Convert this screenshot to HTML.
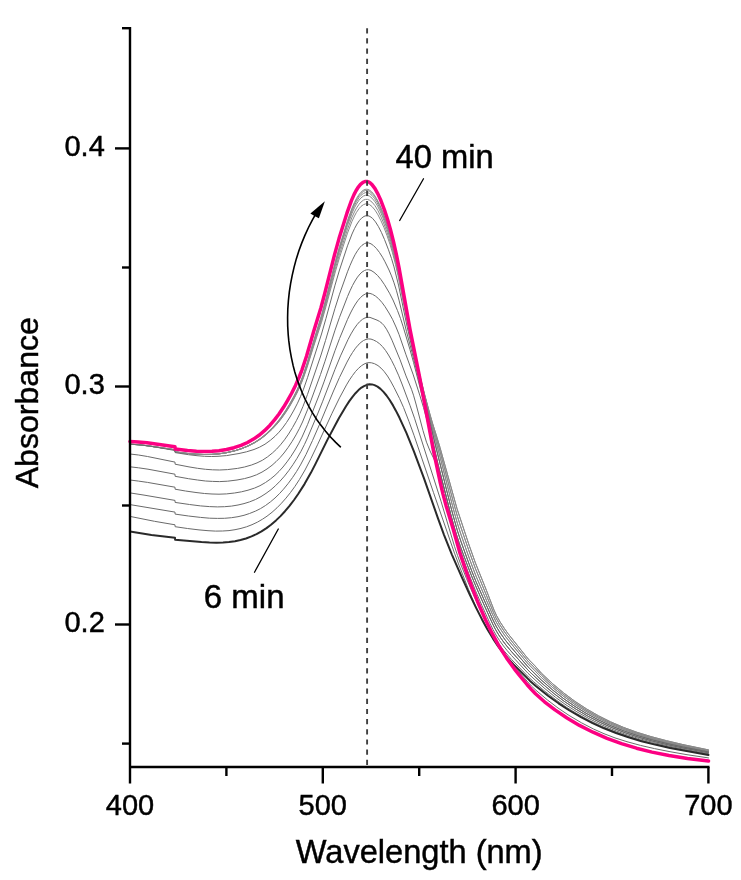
<!DOCTYPE html>
<html><head><meta charset="utf-8"><title>Absorbance spectra</title>
<style>html,body{margin:0;padding:0;background:#fff;}body{width:741px;height:880px;overflow:hidden;}svg{display:block;}</style>
</head><body>
<svg width="741" height="880" viewBox="0 0 741 880">
<rect width="741" height="880" fill="#fff"/>
<g fill="none" stroke-linejoin="round" stroke-linecap="round">
<path d="M130.0 444.2L138.0 444.7L147.0 445.7L175.0 449.8L175.1 451.9L187.5 453.5L196.5 454.2L204.5 454.5L212.0 454.4L219.5 453.8L227.0 452.6L235.0 450.7L241.5 448.6L248.0 445.8L255.0 442.1L261.0 438.0L266.5 433.4L272.5 427.5L277.0 422.4L281.0 417.2L285.5 410.6L289.5 404.1L293.5 396.9L297.0 389.9L300.0 383.1L303.0 375.3L307.0 363.3L313.5 341.3L321.5 315.2L326.0 298.4L335.5 260.9L339.5 246.4L347.5 220.5L352.0 208.0L354.5 202.3L356.5 198.4L358.5 195.2L360.5 192.6L363.0 190.4L365.0 189.4L367.0 189.2L369.0 189.8L371.5 191.6L374.0 194.5L376.5 198.4L379.5 204.3L382.5 211.3L385.5 219.3L388.5 228.5L391.0 237.1L394.0 248.9L397.5 264.5L400.5 279.6L407.0 314.8L411.5 337.6L415.5 356.6L420.5 377.9L425.0 395.8L430.0 414.3L432.5 423.1L440.0 447.5L457.0 508.7L469.0 544.9L475.5 563.2L486.5 590.6L494.0 610.1L496.5 615.5L500.0 621.8L504.5 628.7L508.0 633.6L526.5 656.9L529.0 659.8L535.0 665.9L541.5 673.3L552.5 683.6L563.5 692.8L575.0 701.4L586.5 708.9L598.5 715.8L610.5 721.8L623.5 727.4L637.0 732.3L651.0 736.6L666.5 740.7L683.0 744.6L708.5 749.9" stroke="#8a8a8a" stroke-width="1.0"/>
<path d="M130.0 444.2L138.0 444.7L147.0 445.7L175.0 449.8L175.1 451.9L187.0 453.4L196.0 454.2L204.0 454.5L211.5 454.4L219.0 453.8L226.5 452.7L235.0 450.7L242.0 448.4L248.0 445.9L255.0 442.2L261.0 438.2L266.5 433.7L272.5 427.8L277.0 422.7L281.0 417.6L285.5 411.1L289.5 404.6L293.5 397.4L297.0 390.4L300.0 383.7L303.0 376.0L307.0 364.0L313.5 342.1L321.5 316.3L326.0 299.5L335.5 262.2L339.5 247.8L347.5 222.0L350.0 214.7L352.5 208.2L355.0 202.6L357.0 198.9L359.0 195.8L361.0 193.4L363.5 191.3L365.5 190.5L367.5 190.5L369.5 191.3L372.0 193.3L374.5 196.3L377.0 200.4L379.5 205.4L382.5 212.3L385.5 220.3L388.0 228.0L390.5 236.7L394.0 250.4L397.5 266.0L410.0 331.0L415.0 354.8L420.5 378.3L425.0 396.2L429.5 412.9L432.5 423.3L437.0 437.4L440.0 447.5L457.0 508.7L469.0 544.9L475.5 563.2L486.5 590.6L494.0 610.1L496.5 615.5L500.0 621.8L504.5 628.7L508.0 633.6L526.5 656.9L529.0 659.8L535.0 665.9L541.5 673.3L552.5 683.6L563.5 692.8L575.0 701.4L586.5 708.9L598.5 715.8L610.5 721.8L623.5 727.4L637.0 732.3L651.0 736.6L666.5 740.7L683.0 744.6L708.5 749.9" stroke="#8a8a8a" stroke-width="1.0"/>
<path d="M130.0 444.2L138.0 444.7L147.0 445.7L175.0 449.8L175.1 451.9L187.0 453.4L196.0 454.2L204.0 454.5L211.5 454.4L219.0 453.8L226.5 452.7L235.0 450.7L242.0 448.5L248.0 446.0L255.0 442.3L261.0 438.4L266.5 434.0L272.5 428.2L277.0 423.1L281.0 418.0L285.5 411.6L289.5 405.1L293.5 398.0L297.0 391.0L300.0 384.3L303.0 376.6L307.0 364.7L313.5 342.9L321.5 317.1L326.0 300.4L335.0 265.2L339.5 249.0L347.5 223.4L352.0 211.0L354.5 205.4L356.5 201.6L359.0 197.7L361.0 195.3L363.5 193.4L365.5 192.6L367.5 192.6L369.5 193.4L372.0 195.4L374.5 198.4L377.0 202.5L379.5 207.4L382.5 214.3L385.5 222.3L388.0 229.9L391.0 240.3L394.5 254.1L398.0 269.7L410.0 331.5L415.0 355.3L419.5 374.7L424.0 392.8L431.0 419.5L439.5 449.5L453.5 502.6L457.5 516.7L460.5 526.1L468.5 549.5L475.5 568.8L493.5 612.6L496.0 618.0L499.5 624.2L504.0 631.1L507.5 635.9L513.0 642.9L526.5 659.4L529.0 662.3L534.5 667.7L541.5 675.3L552.0 685.0L563.0 694.1L574.5 702.5L586.0 710.0L598.0 716.8L610.5 722.9L623.5 728.4L637.0 733.2L651.0 737.5L666.5 741.5L683.5 745.4L708.5 750.5" stroke="#8a8a8a" stroke-width="1.0"/>
<path d="M130.0 444.2L138.0 444.7L147.0 445.7L175.0 449.8L175.1 451.9L187.0 453.4L196.0 454.2L204.0 454.5L211.5 454.4L218.5 453.9L226.0 452.8L234.5 450.9L241.5 448.7L248.0 446.0L255.0 442.5L261.0 438.6L266.5 434.2L272.5 428.5L277.0 423.5L281.0 418.4L285.5 412.0L289.5 405.6L293.5 398.5L297.0 391.6L300.0 384.9L303.0 377.3L307.0 365.4L313.5 343.8L321.5 318.2L326.0 301.7L335.0 266.7L339.5 250.7L347.5 225.4L352.0 213.3L354.5 207.7L356.5 204.0L359.0 200.2L361.0 197.9L363.5 196.0L365.5 195.3L367.5 195.3L369.5 196.1L372.0 198.1L375.0 201.8L377.5 205.9L380.5 212.0L383.0 217.9L386.0 226.0L389.0 235.2L391.5 243.9L394.5 255.7L398.0 271.2L410.0 332.6L415.0 356.3L419.5 375.6L424.0 393.6L430.0 416.4L440.0 451.4L453.5 502.6L457.5 516.7L460.5 526.1L468.5 549.5L475.5 568.8L493.5 612.6L496.0 618.0L499.5 624.2L504.0 631.1L507.5 635.9L513.0 642.9L526.5 659.4L529.0 662.3L534.5 667.7L541.5 675.3L552.0 685.0L563.0 694.1L574.5 702.5L586.0 710.0L598.0 716.8L610.5 722.9L623.5 728.4L637.0 733.2L651.0 737.5L666.5 741.5L683.5 745.4L708.5 750.5" stroke="#8a8a8a" stroke-width="1.0"/>
<path d="M130.0 444.2L138.0 444.7L147.0 445.7L175.0 449.8L175.1 451.9L187.0 453.4L196.0 454.2L204.0 454.5L211.5 454.4L218.5 453.9L226.0 452.8L234.5 450.9L241.5 448.7L248.0 446.1L255.0 442.5L261.0 438.7L266.5 434.4L272.5 428.7L277.0 423.8L281.0 418.8L285.5 412.5L289.5 406.1L293.5 399.1L297.0 392.3L300.0 385.7L303.0 378.3L307.0 366.6L313.5 345.3L321.5 320.3L326.0 304.1L335.0 269.8L339.5 254.1L347.5 229.2L352.0 217.2L354.5 211.8L356.5 208.1L359.0 204.3L361.0 202.0L363.5 200.1L365.5 199.4L367.5 199.4L369.5 200.2L372.0 202.1L375.0 205.7L378.0 210.7L381.0 216.9L384.0 224.0L387.0 232.2L390.0 241.6L392.5 250.3L395.5 262.2L398.0 273.3L408.5 326.8L414.0 352.8L418.0 370.3L432.0 426.2L440.5 458.7L451.5 502.0L457.5 523.8L460.5 533.1L468.0 554.7L472.5 567.1L476.0 576.1L493.0 615.5L496.0 621.7L499.0 626.9L505.5 636.6L514.0 647.2L528.0 663.8L535.0 670.8L541.5 677.6L552.0 687.0L563.0 695.9L574.5 704.2L586.0 711.4L598.0 718.1L610.5 724.1L623.5 729.4L637.0 734.2L651.0 738.4L666.5 742.4L683.5 746.1L708.5 751.2" stroke="#8a8a8a" stroke-width="1.0"/>
<path d="M130.0 444.2L138.0 444.7L147.0 445.7L175.0 449.8L175.1 451.9L187.0 453.4L196.0 454.2L204.0 454.5L211.5 454.4L218.5 453.9L226.0 452.8L234.5 450.9L241.5 448.7L248.0 446.1L255.0 442.6L261.0 438.8L266.5 434.5L272.5 428.9L277.0 424.1L281.0 419.2L285.0 413.6L289.0 407.5L293.5 399.7L297.0 393.0L300.0 386.5L303.0 379.2L307.0 367.7L313.5 346.9L321.5 322.3L326.0 306.5L335.5 271.1L339.5 257.5L347.5 233.1L352.0 221.3L354.5 216.0L356.5 212.3L359.0 208.7L361.0 206.4L363.5 204.6L365.5 203.9L367.5 203.9L369.5 204.6L372.0 206.5L375.0 210.1L378.0 214.9L381.0 220.8L384.0 227.6L387.0 235.5L390.0 244.4L392.5 252.9L395.5 264.5L398.0 275.5L408.0 326.0L414.5 356.1L418.5 373.3L432.0 426.7L440.5 458.6L452.0 503.9L455.0 515.1L458.0 525.4L461.0 534.6L468.5 556.1L476.0 576.1L493.0 615.5L496.0 621.7L499.5 627.7L504.0 634.5L508.0 639.8L526.5 662.1L529.0 664.9L534.5 670.3L541.5 677.6L552.5 687.5L563.5 696.3L575.0 704.5L586.5 711.7L598.5 718.3L611.0 724.3L624.0 729.6L637.5 734.4L651.5 738.5L667.0 742.5L684.0 746.2L708.5 751.2" stroke="#8a8a8a" stroke-width="1.0"/>
<path d="M130.0 444.2L138.5 444.8L148.0 445.9L158.0 447.5L175.0 450.5L175.1 452.6L188.5 454.7L197.0 455.7L204.5 456.3L211.5 456.5L218.0 456.3L226.5 455.6L239.0 453.5L246.5 451.8L254.0 449.5L259.5 447.2L265.0 444.2L270.5 440.2L275.0 436.3L279.0 432.2L282.5 428.0L286.5 422.5L290.0 417.0L294.0 410.0L297.5 403.2L300.5 396.6L303.5 389.2L307.5 377.7L321.5 334.0L326.0 318.3L335.0 285.2L339.5 270.0L347.5 245.8L352.0 234.0L354.5 228.6L357.0 224.0L359.5 220.4L361.5 218.2L364.0 216.4L366.0 215.7L368.0 215.7L370.0 216.5L372.5 218.3L375.5 221.9L378.5 226.7L381.5 232.6L384.5 239.5L388.5 249.8L391.5 258.5L394.0 266.9L398.5 285.1L407.0 326.2L415.5 363.4L427.0 408.8L434.5 440.9L446.0 487.9L453.0 515.3L457.5 531.1L461.0 541.6L467.5 559.7L472.0 571.7L476.0 581.7L493.0 620.0L496.0 626.0L499.0 631.0L505.5 640.4L514.0 650.7L528.5 667.4L541.5 680.2L552.5 689.8L563.5 698.5L574.5 706.1L586.0 713.2L598.0 719.7L610.5 725.5L623.5 730.8L637.5 735.6L651.5 739.6L667.0 743.5L684.0 747.2L708.5 752.0" stroke="#6a6a6a" stroke-width="1.0"/>
<path d="M130.0 454.0L138.5 455.0L147.5 456.5L175.0 462.1L175.1 464.2L189.0 466.9L197.5 468.3L205.5 469.3L212.5 469.8L219.5 470.0L227.5 469.6L237.5 468.4L244.5 467.0L251.5 465.0L257.0 462.9L262.5 460.2L267.5 456.9L272.5 452.9L276.5 449.2L280.5 444.8L284.5 439.8L288.5 434.1L292.5 427.6L296.5 420.4L300.0 413.3L303.0 406.4L307.5 394.4L321.0 355.0L325.5 340.5L335.0 308.3L339.5 294.2L347.5 271.8L350.0 265.5L352.5 259.8L355.0 254.8L357.5 250.7L360.0 247.3L362.0 245.3L364.5 243.6L366.5 242.9L368.5 242.9L371.0 243.8L373.5 245.6L376.5 248.6L379.5 252.5L382.5 257.2L385.0 261.8L389.0 270.0L391.5 275.9L394.0 282.8L396.5 290.8L399.0 300.1L406.5 331.6L412.0 352.3L419.0 380.4L426.5 409.2L433.0 435.8L451.0 507.5L457.0 529.4L460.5 540.2L467.0 558.3L472.0 571.7L476.0 581.7L493.0 620.0L496.5 626.9L500.5 633.4L505.0 639.7L509.0 644.8L527.0 665.7L529.5 668.4L542.0 680.7L553.0 690.3L564.0 698.9L575.0 706.5L587.0 713.8L599.0 720.2L611.5 726.0L624.5 731.1L638.0 735.7L652.0 739.8L667.5 743.6L684.5 747.3L708.5 752.0" stroke="#6a6a6a" stroke-width="1.0"/>
<path d="M130.0 466.8L138.5 467.8L148.0 469.2L175.0 474.2L175.1 476.3L188.5 478.7L197.5 480.0L205.5 481.0L212.5 481.4L219.5 481.6L227.5 481.2L237.0 480.0L244.5 478.6L251.0 476.8L256.5 474.8L262.0 472.1L267.0 469.0L272.0 465.3L276.0 461.7L280.0 457.7L284.0 453.0L288.0 447.6L292.0 441.6L296.0 434.9L299.5 428.3L302.5 422.0L307.5 409.8L320.5 374.5L325.0 361.2L335.0 330.2L339.5 317.3L347.5 296.6L350.0 290.8L352.5 285.5L355.0 281.0L357.5 277.1L360.0 274.0L362.0 272.1L364.5 270.5L366.5 269.8L368.5 269.7L371.0 270.4L374.0 272.3L377.5 275.4L381.0 279.6L384.5 284.7L389.5 293.2L393.0 300.0L397.5 310.6L400.5 318.5L403.0 326.2L410.0 349.7L413.5 362.3L427.0 414.8L438.0 463.7L444.0 488.2L451.5 517.3L457.0 536.4L460.5 546.8L466.5 562.9L472.0 577.0L477.0 589.0L493.0 624.7L496.5 631.3L501.0 638.4L505.0 643.8L509.5 649.3L527.0 669.0L530.0 672.1L542.0 683.4L553.5 693.2L564.5 701.5L575.5 708.9L587.5 716.0L599.5 722.1L612.0 727.7L625.0 732.7L638.5 737.2L652.5 741.1L668.0 744.8L685.0 748.4L708.5 752.8" stroke="#6a6a6a" stroke-width="1.0"/>
<path d="M130.0 480.0L138.5 481.1L147.5 482.4L175.0 487.2L175.1 489.2L185.5 491.0L196.0 492.5L204.5 493.5L212.0 494.0L219.0 494.2L226.5 493.9L234.5 493.0L241.5 491.8L248.0 490.2L254.5 488.1L260.0 485.7L265.5 482.5L270.5 479.0L275.0 475.3L279.0 471.4L283.0 467.0L287.0 461.9L291.0 456.3L295.0 450.0L298.5 443.9L302.0 437.1L307.5 424.7L319.5 394.1L324.0 381.9L335.0 350.6L339.5 338.6L347.5 319.4L350.5 313.0L353.0 308.2L355.5 304.0L358.0 300.4L360.5 297.5L363.0 295.3L365.5 293.9L367.5 293.3L370.0 293.4L372.5 294.3L375.5 296.1L378.5 298.6L382.0 302.5L385.0 306.6L389.0 313.0L392.5 319.3L396.0 327.0L399.0 334.4L406.0 354.8L413.0 374.1L420.0 395.9L423.5 407.5L427.5 422.3L433.5 446.5L451.0 515.1L455.0 529.6L459.0 542.4L464.0 556.2L471.0 574.5L475.5 585.5L481.0 598.1L491.0 620.4L494.5 627.7L498.5 634.6L503.0 641.2L506.5 645.7L511.0 651.1L527.5 669.5L530.5 672.6L543.0 684.3L554.5 694.0L565.0 701.9L576.5 709.5L588.5 716.5L600.5 722.6L612.5 727.9L625.5 732.9L639.0 737.3L653.0 741.2L668.0 744.8L685.0 748.4L708.5 752.8" stroke="#6a6a6a" stroke-width="1.0"/>
<path d="M130.0 492.9L144.0 495.1L175.0 500.4L175.1 502.4L177.0 502.7L189.5 504.5L200.5 505.9L209.5 506.6L217.5 506.9L224.5 506.7L231.5 506.1L238.0 505.0L244.0 503.6L249.5 501.9L255.5 499.5L261.0 496.6L266.0 493.4L271.0 489.7L275.5 485.7L280.0 481.2L284.5 476.1L289.0 470.3L293.0 464.6L297.0 458.3L301.0 451.3L304.5 444.4L307.5 437.9L318.0 413.0L322.5 401.8L335.0 369.3L340.5 355.9L348.0 339.6L351.0 333.9L354.0 328.9L357.0 324.7L359.5 321.8L362.5 319.3L365.0 317.9L367.5 317.3L370.0 317.4L377.0 320.1L379.5 321.4L382.0 323.3L384.0 325.5L386.5 329.2L389.0 333.8L392.0 340.2L400.0 359.6L406.0 375.9L411.5 389.3L413.5 395.2L416.0 404.0L423.0 430.6L426.5 442.2L430.0 450.9L437.0 465.2L439.5 472.0L444.0 487.9L453.0 524.3L456.5 537.6L460.0 549.3L464.5 562.2L470.0 577.0L475.5 590.7L482.0 605.7L489.5 622.3L493.0 629.5L496.0 635.0L499.5 640.5L503.5 646.0L507.0 650.4L511.5 655.5L528.0 673.3L532.0 677.1L544.0 687.9L555.5 697.3L566.0 704.9L577.0 711.9L589.0 718.6L601.0 724.5L613.0 729.7L626.0 734.5L639.5 738.7L653.5 742.5L668.5 746.0L685.5 749.5L708.5 753.7" stroke="#6a6a6a" stroke-width="1.0"/>
<path d="M130.0 504.6L175.0 512.1L175.1 514.1L188.5 516.0L200.5 517.4L209.5 518.2L217.5 518.4L224.5 518.3L231.5 517.7L238.0 516.7L244.0 515.3L249.5 513.5L255.5 511.1L260.5 508.6L265.5 505.5L270.5 501.8L275.0 498.0L279.5 493.6L283.5 489.2L288.0 483.7L292.5 477.6L296.5 471.6L300.5 464.9L306.0 454.5L312.5 440.5L319.5 424.5L333.5 391.0L339.5 377.4L347.0 362.1L350.0 356.6L352.5 352.5L355.5 348.2L358.0 345.2L361.0 342.3L363.5 340.5L366.0 339.4L368.5 338.9L371.0 339.1L373.5 340.0L376.5 341.5L379.5 343.7L382.5 346.6L385.5 350.4L388.5 355.0L391.5 360.3L394.5 366.3L398.5 375.2L402.0 384.0L410.0 405.4L414.5 418.2L441.0 501.2L454.5 546.4L457.5 555.4L460.5 563.7L466.5 578.6L473.0 593.8L479.0 606.9L485.5 620.3L491.0 631.0L495.0 638.0L499.0 644.2L504.0 650.8L511.5 659.4L528.5 677.0L533.5 681.6L545.0 691.4L556.0 699.9L566.5 707.3L578.0 714.3L589.5 720.5L601.5 726.2L613.5 731.2L626.5 735.9L640.0 740.0L654.0 743.7L669.0 747.1L685.5 750.3L708.5 754.4" stroke="#6a6a6a" stroke-width="1.0"/>
<path d="M130.0 516.4L154.5 521.3L175.0 524.8L175.1 526.7L187.5 528.5L199.0 529.9L208.0 530.7L215.5 531.1L222.5 531.0L229.0 530.6L235.0 529.7L241.0 528.4L246.5 526.8L252.0 524.7L257.5 522.1L262.5 519.2L267.0 516.2L272.0 512.3L277.0 507.8L281.5 503.2L286.0 498.1L290.5 492.5L295.0 486.3L299.5 479.4L305.0 470.0L311.0 458.4L317.5 444.8L332.0 413.3L339.5 397.9L346.5 384.9L349.5 379.9L352.5 375.5L355.5 371.5L358.5 368.3L361.5 365.7L364.0 364.1L366.5 363.0L369.0 362.6L371.5 362.8L374.5 363.7L378.0 365.6L381.0 368.1L384.0 371.3L387.5 376.0L390.5 380.9L394.0 387.4L399.5 398.4L403.5 407.4L409.0 421.5L414.0 435.3L433.5 492.6L454.5 553.2L459.0 565.2L468.5 589.4L476.0 607.2L479.5 614.5L484.0 623.1L488.5 631.1L493.0 638.6L497.0 644.7L500.5 649.5L505.5 656.0L511.0 662.6L527.0 681.1L531.5 686.1L536.0 690.3L547.5 700.0L558.0 708.0L569.0 715.4L581.5 722.8L593.5 729.0L604.0 733.7L615.0 737.9L627.0 741.7L640.5 745.4L654.5 748.6L670.0 751.7L687.0 754.7L708.5 757.9" stroke="#6a6a6a" stroke-width="1.0"/>
<path d="M130.0 531.6L151.5 534.9L175.0 537.8L175.1 539.7L201.5 542.1L209.5 542.6L216.5 542.7L223.0 542.6L229.0 542.1L235.0 541.2L240.5 540.0L246.0 538.5L251.5 536.4L256.5 534.1L261.5 531.3L266.5 528.1L271.0 524.7L276.0 520.4L280.5 516.1L285.0 511.2L289.5 505.9L294.0 500.0L298.0 494.3L304.5 484.1L311.0 472.6L315.5 463.9L327.5 439.6L339.0 418.0L346.0 406.2L349.5 400.9L352.5 396.8L355.5 393.2L358.5 390.1L361.5 387.6L364.0 386.1L367.0 384.8L369.5 384.3L372.0 384.4L374.5 385.1L377.5 386.6L380.5 388.9L383.5 391.9L386.5 395.5L389.5 399.8L393.0 405.4L396.0 410.9L399.5 417.8L406.5 433.2L414.0 451.6L424.0 478.3L438.0 518.4L444.0 534.8L452.0 554.8L462.0 577.7L469.5 594.1L476.0 607.6L482.0 619.4L487.5 629.4L493.0 638.6L498.0 646.1L502.5 652.1L508.0 658.5L513.5 664.4L530.0 680.9L535.5 685.7L548.0 695.7L558.5 703.3L569.5 710.5L581.0 717.2L592.5 723.1L604.0 728.3L616.0 733.0L628.5 737.3L641.5 741.2L655.0 744.6L670.0 747.9L686.5 751.1L708.5 754.9" stroke="#2a2a2a" stroke-width="2.0"/>
<path d="M130.0 441.4L138.0 441.9L147.0 442.8L175.0 446.8L175.1 448.9L187.5 450.4L196.5 451.2L204.5 451.4L212.0 451.3L219.0 450.7L226.5 449.5L234.0 447.7L241.0 445.4L247.5 442.5L253.5 439.1L259.0 435.3L264.5 430.7L270.0 425.2L274.5 419.9L279.0 414.0L283.5 407.3L287.5 400.7L291.5 393.5L295.5 385.4L299.0 377.5L302.0 369.8L306.5 356.2L313.5 332.1L321.0 307.5L325.0 292.5L334.5 254.9L339.0 238.6L347.0 212.9L351.5 200.4L354.0 194.6L356.0 190.7L358.5 186.8L360.5 184.3L363.0 182.3L365.0 181.5L367.0 181.4L369.0 182.1L370.5 183.2L372.0 184.6L375.0 188.6L378.0 194.1L381.0 200.8L384.5 210.1L387.5 219.3L390.5 229.7L393.5 241.6L396.5 255.1L399.0 267.6L410.0 329.2L419.5 376.5L433.5 450.9L440.0 481.5L443.0 494.1L446.0 505.4L453.0 528.6L460.0 553.3L465.5 569.6L471.5 586.1L478.5 603.8L485.5 619.8L492.0 633.2L499.0 646.0L506.5 657.9L514.5 669.1L519.5 675.4L527.0 684.5L531.5 689.6L535.5 693.7L544.5 701.8L555.0 709.9L567.0 718.0L579.5 725.4L593.0 732.2L607.0 738.3L621.5 743.6L636.5 748.2L652.0 752.1L669.0 755.5L687.5 758.4L708.5 761.0" stroke="#fc0082" stroke-width="3.5"/>
</g>
<line x1="367.1" y1="28.2" x2="367.1" y2="766" stroke="#404040" stroke-width="1.9" stroke-dasharray="5.2 4.96"/>
<g stroke="#000" stroke-width="2.4" fill="none">
<path d="M130 27V783.5"/><path d="M129 767H709.5" stroke-width="2.5"/>
<path d="M115 148.4H130"/>
<path d="M115 386.5H130"/>
<path d="M115 624.5H130"/>
<path d="M122 28.2H130"/>
<path d="M122 267.5H130"/>
<path d="M122 505.5H130"/>
<path d="M122 743.6H130"/>
<path d="M322.8 767V783.5"/>
<path d="M515.6 767V783.5"/>
<path d="M708.4 767V783.5"/>
<path d="M226.4 767V776"/>
<path d="M419.2 767V776"/>
<path d="M612.0 767V776"/>
</g>
<g stroke="#000" stroke-width="1.3" fill="none" stroke-linecap="round">
<path d="M423.5 178.8L399.7 220.5"/>
<path d="M278.3 529L254.5 572.3"/>
<path d="M340.4 446.8L335.7 442.4L329.8 436.2L325.6 431.3L320.4 424.6L316.7 419.5L312.2 412.4L309.1 406.9L305.2 399.4L302.6 393.7L299.5 385.9L297.3 380.0L294.8 372.0L293.2 365.9L291.4 357.6L289.9 349.3L288.8 340.9L288.2 334.6L287.7 326.1L287.6 317.6L287.8 309.1L288.4 300.6L289.3 292.1L290.6 283.7L292.2 275.3L294.1 267.1L296.3 258.9L298.9 250.8L301.8 242.9L305.0 235.1L308.5 227.5L312.3 220.1L315.4 214.7" stroke-width="1.6"/>
</g>
<path d="M324.9 201.3L310.4 213.5L314.5 216L318.9 218.3Z" fill="#000"/>
<g font-family="'Liberation Sans', Arial, Helvetica, sans-serif" fill="#000" stroke="#000" stroke-width="0.45">
<text x="130.0" y="814.6" font-size="29" text-anchor="middle">400</text>
<text x="322.8" y="814.6" font-size="29" text-anchor="middle">500</text>
<text x="515.6" y="814.6" font-size="29" text-anchor="middle">600</text>
<text x="708.4" y="814.6" font-size="29" text-anchor="middle">700</text>
<text x="104.8" y="155.7" font-size="29" text-anchor="end">0.4</text>
<text x="104.8" y="393.8" font-size="29" text-anchor="end">0.3</text>
<text x="104.8" y="631.8" font-size="29" text-anchor="end">0.2</text>
<text x="419.2" y="862.9" font-size="32.6" text-anchor="middle">Wavelength (nm)</text>
<text transform="translate(37.9 402.7) rotate(-90)" font-size="32.1" text-anchor="middle">Absorbance</text>
<text x="395.5" y="168" font-size="32.7">40 min</text>
<text x="203.8" y="608" font-size="33">6 min</text>
</g>
</svg>
</body></html>
